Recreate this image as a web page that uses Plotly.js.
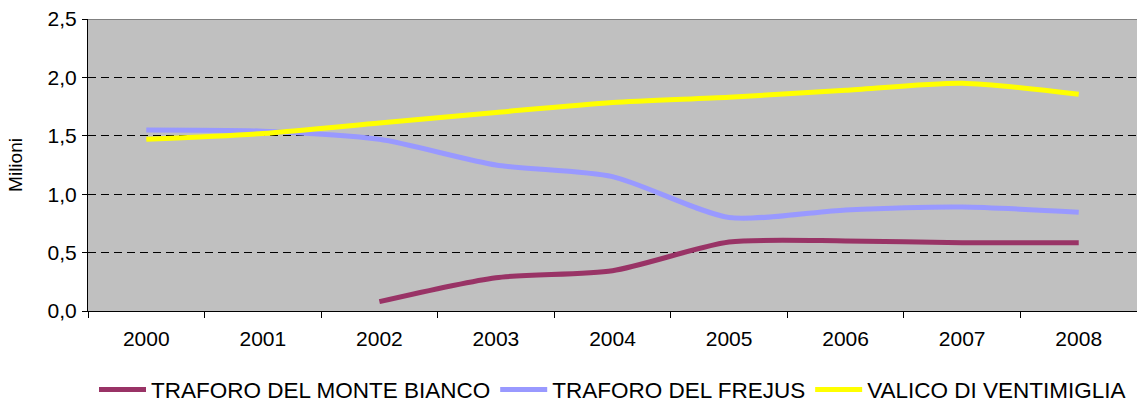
<!DOCTYPE html>
<html>
<head>
<meta charset="utf-8">
<script src="https://cdn.plot.ly/plotly-3.0.1.min.js"></script>
<style>
html,body{margin:0;padding:0;background:#fff;}
#chart{width:1137px;height:403px;}
</style>
</head>
<body>
<div id="chart"></div>
<script>
const years = ["2000","2001","2002","2003","2004","2005","2006","2007","2008"];
const monteBianco = [null, null, 0.08, 0.285, 0.345, 0.59, 0.60, 0.585, 0.585];
const frejus = [1.55, 1.54, 1.47, 1.25, 1.15, 0.80, 0.865, 0.89, 0.845];
const ventimiglia = [1.47, 1.52, 1.61, 1.70, 1.785, 1.83, 1.89, 1.95, 1.855];
const seriesNames = ["TRAFORO DEL MONTE BIANCO", "TRAFORO DEL FREJUS", "VALICO DI VENTIMIGLIA"];
const yTicks = [0, 0.5, 1, 1.5, 2, 2.5];

const font = "Liberation Sans, Arial, sans-serif";
function tr(y, name, color) {
  return {
    x: years, y: y, name: name, type: "scatter", mode: "lines",
    line: {color: color, width: 5, shape: "spline", smoothing: 0.7},
    connectgaps: false, hoverinfo: "skip"
  };
}
const data = [
  tr(monteBianco, seriesNames[0], "#993366"),
  tr(frejus, seriesNames[1], "#9999FF"),
  tr(ventimiglia, seriesNames[2], "#FFFF00")
];
const layout = {
  width: 1137, height: 403,
  margin: {l: 88, r: 0, t: 19, b: 92, autoexpand: false},
  paper_bgcolor: "#ffffff",
  plot_bgcolor: "#C0C0C0",
  separators: ",.",
  font: {family: font, color: "#000", size: 19},
  showlegend: true,
  legend: {
    orientation: "h", x: 0.5, xanchor: "center", y: -0.27, yanchor: "middle",
    font: {family: font, size: 22.5, color: "#000"},
    itemwidth: 47, tracegroupgap: 0, bgcolor: "rgba(0,0,0,0)"
  },
  xaxis: {
    type: "category", categoryorder: "array", categoryarray: years,
    range: [-0.5, 8.5], tickson: "boundaries",
    ticks: "outside", ticklen: 6, tickcolor: "#000", tickwidth: 1,
    showline: true, linecolor: "#000", linewidth: 1,
    showgrid: false, zeroline: false,
    tickfont: {family: font, size: 21, color: "#000"},
    ticklabelstandoff: 9, fixedrange: true
  },
  yaxis: {
    range: [0, 2.5], tickvals: yTicks, tickformat: ".1f",
    ticks: "outside", ticklen: 5, tickcolor: "#000", tickwidth: 1,
    showline: true, linecolor: "#000", linewidth: 1,
    showgrid: true, gridcolor: "#000", gridwidth: 1, griddash: "8px,5px",
    zeroline: false,
    tickfont: {family: font, size: 21, color: "#000"},
    ticklabelstandoff: 1,
    title: {text: "Milioni", font: {family: font, size: 19, color: "#000"}, standoff: 19},
    fixedrange: true
  },
  shapes: [{
    type: "line", xref: "paper", yref: "y", x0: 0, x1: 1, y0: 2.5, y1: 2.5,
    line: {color: "#808080", width: 2}
  }]
};
Plotly.newPlot("chart", data, layout, {staticPlot: true, displayModeBar: false});
</script>
</body>
</html>
